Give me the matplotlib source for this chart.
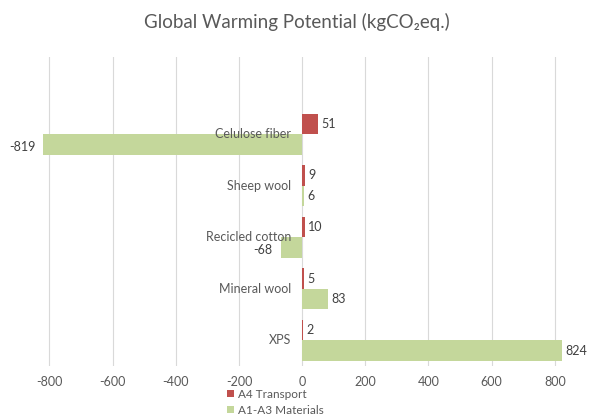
import matplotlib
matplotlib.use("Agg")
import matplotlib.pyplot as plt
from matplotlib.patches import Patch
import numpy as np

categories = ["XPS", "Mineral wool", "Recicled cotton", "Sheep wool", "Celulose fiber"]
transport = [2, 5, 10, 9, 51]
materials = [824, 83, -68, 6, -819]
tick_values = [-800, -600, -400, -200, 0, 200, 400, 600, 800]

RED = "#C0504D"
GREEN = "#C4D79B"
TEXT = "#595959"
GRID = "#D9D9D9"

plt.rcParams["font.family"] = ["Lato", "DejaVu Sans"]

fig = plt.figure(figsize=(5.93, 4.16), dpi=100)
ax = fig.add_axes([0.07, 0.120, 0.879, 0.743])

y = np.arange(len(categories))
h = 0.4
ax.barh(y + h / 2, transport, height=h, color=RED, zorder=3)
ax.barh(y - h / 2, materials, height=h, color=GREEN, zorder=3)

ax.set_xlim(-825, 825)
ax.set_ylim(-0.5, len(categories) + 0.5)
ax.set_xticks(tick_values)
ax.set_xticklabels([str(v) for v in tick_values])
ax.set_yticks([])
ax.tick_params(axis="x", length=0, labelsize=9, colors=TEXT, pad=7)
ax.grid(axis="x", color=GRID, linewidth=0.8, zorder=0)
for s in ax.spines.values():
    s.set_visible(False)

pad = 10
for yi, v in zip(y, transport):
    ax.text(v + pad, yi + h / 2, str(v), va="center", ha="left",
            fontsize=9, color="#404040", zorder=4)
for yi, v in zip(y, materials):
    if v >= 0:
        ax.text(v + pad, yi - h / 2, str(v), va="center", ha="left",
                fontsize=9, color="#404040", zorder=4)
    else:
        ax.text(v - 25, yi - h / 2 - 0.05, str(v), va="center", ha="right",
                fontsize=9, color="#404040", zorder=4)

for yi, name in zip(y, categories):
    ax.text(-35, yi, name, va="center", ha="right", fontsize=9,
            color=TEXT, zorder=5)

fig.text(0.5, 0.947, "Global Warming Potential (kgCO\u2082eq.)",
         ha="center", va="center", fontsize=13.5, color=TEXT)

handles = [Patch(facecolor=RED, edgecolor="none"),
           Patch(facecolor=GREEN, edgecolor="none")]
fig.legend(handles, ["A4 Transport", "A1-A3 Materials"],
           loc="upper left", bbox_to_anchor=(0.383, 0.066),
           frameon=False, fontsize=8.5, labelcolor=TEXT,
           handlelength=0.6, handleheight=0.6, handletextpad=0.3,
           labelspacing=0.45, borderpad=0, borderaxespad=0)

fig.savefig("out.png", dpi=100)
